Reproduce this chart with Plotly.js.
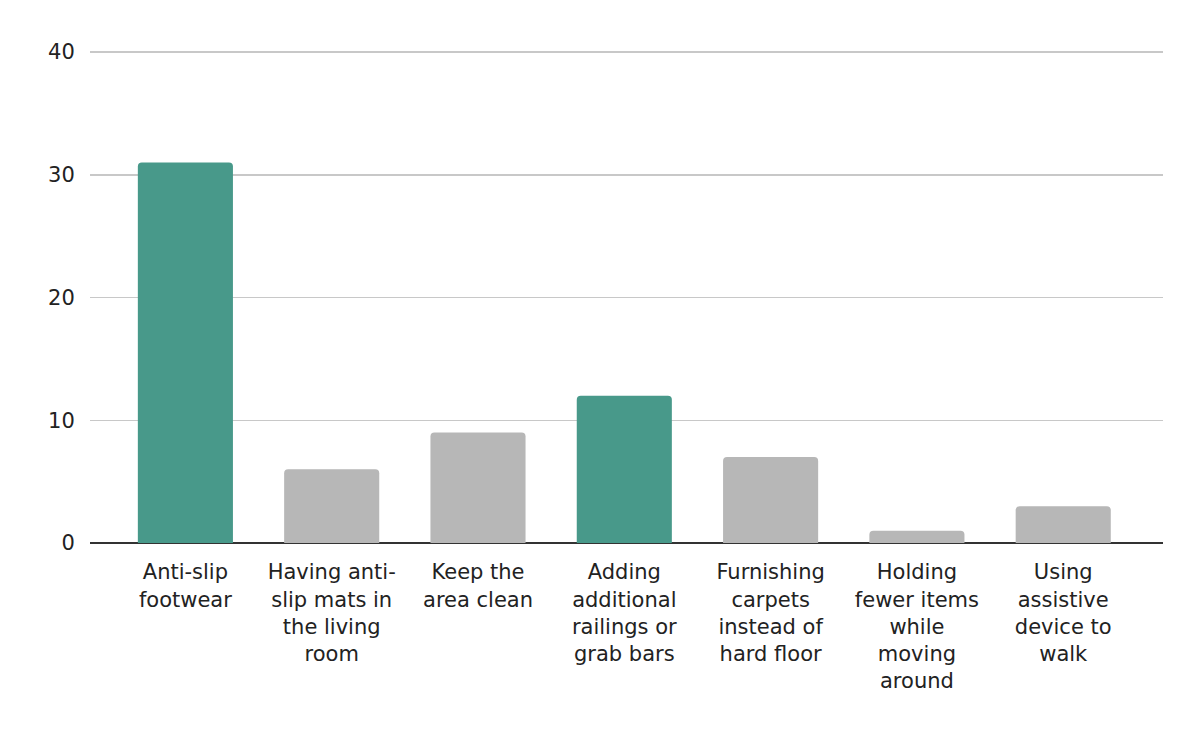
<!DOCTYPE html>
<html>
<head>
<meta charset="utf-8">
<script src="https://cdn.plot.ly/plotly-3.0.1.min.js"></script>
<style>
  html, body { margin: 0; padding: 0; background: #fff; }
  #chart { width: 1200px; height: 742px; }
</style>
</head>
<body>
<div id="chart"></div>
<script>
// ======== DATA ========
var categories = [
  'Anti-slip<br>footwear',
  'Having anti-<br>slip mats in<br>the living<br>room',
  'Keep the<br>area clean',
  'Adding<br>additional<br>railings or<br>grab bars',
  'Furnishing<br>carpets<br>instead of<br>hard floor',
  'Holding<br>fewer items<br>while<br>moving<br>around',
  'Using<br>assistive<br>device to<br>walk'
];
var counts = [31, 6, 9, 12, 7, 1, 3];
var highlighted = [true, false, false, true, false, false, false];
var yTicks = [0, 10, 20, 30, 40];

var TEAL = '#48998a';
var GREY = '#b7b7b7';

// ======== PLOT ========
var barColors = highlighted.map(function (h) { return h ? TEAL : GREY; });

var trace = {
  x: categories,
  y: counts,
  type: 'bar',
  width: 0.65,
  marker: { color: barColors, cornerradius: 4 },
  hoverinfo: 'x+y'
};

var font = { family: '"DejaVu Sans", sans-serif', size: 21, color: '#222' };

// range runs a bit past 40 so the top gridline is still drawn
var layout = {
  width: 1200,
  height: 742,
  margin: { l: 90, r: 37, t: 46, b: 199, pad: 0 },
  paper_bgcolor: '#ffffff',
  plot_bgcolor: '#ffffff',
  font: font,
  showlegend: false,
  xaxis: {
    type: 'category',
    range: [-0.652, 6.682],
    showgrid: false,
    zeroline: false,
    showline: false,
    ticks: 'outside',
    ticklen: 10,
    tickcolor: 'rgba(0,0,0,0)',
    tickfont: font,
    fixedrange: true
  },
  yaxis: {
    range: [0, 40.5],
    tickvals: yTicks,
    showgrid: true,
    gridcolor: '#c8c8c8',
    gridwidth: 1.5,
    zeroline: true,
    zerolinecolor: '#333333',
    zerolinewidth: 2,
    showline: false,
    ticks: 'outside',
    ticklen: 10,
    tickcolor: 'rgba(0,0,0,0)',
    tickfont: font,
    fixedrange: true
  }
};

Plotly.newPlot('chart', [trace], layout, { displayModeBar: false, staticPlot: true });
</script>
</body>
</html>
